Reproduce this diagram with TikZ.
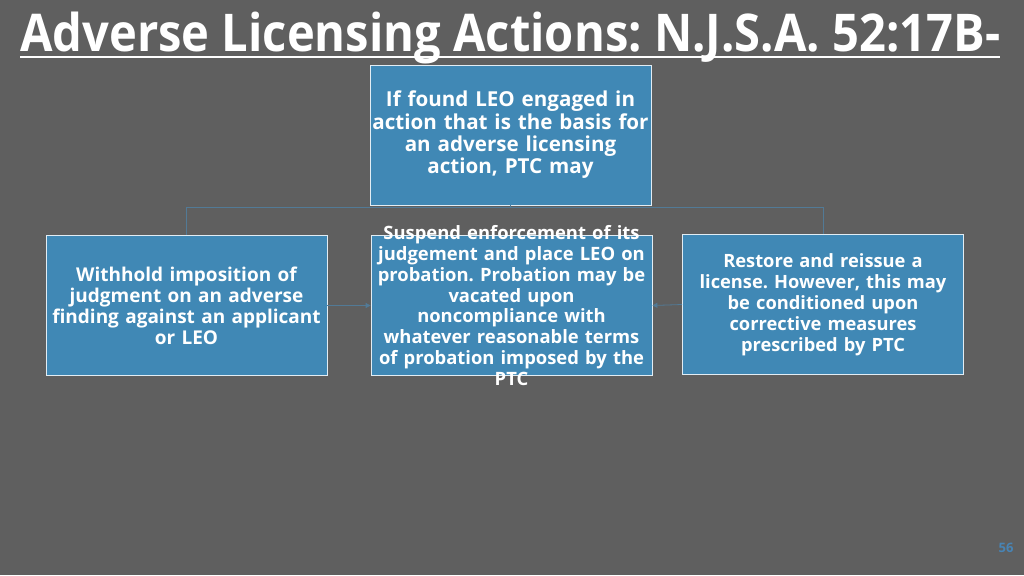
\documentclass[tikz,border=0pt]{standalone}
\usepackage{fontspec}
\setmainfont{Open Sans}
\usetikzlibrary{arrows.meta}
\definecolor{slidegrey}{RGB}{95,95,95}
\definecolor{boxblue}{RGB}{64,136,181}
\definecolor{linkblue}{RGB}{82,122,150}
\definecolor{numblue}{RGB}{72,132,180}
\begin{document}
\frenchspacing
\begin{tikzpicture}[x=1pt,y=-1pt,
    box/.style={shape=rectangle,draw=white!85!boxblue,line width=0.8pt,fill=boxblue,
      minimum width=281pt,minimum height=140pt,inner sep=0pt},
    boxtext/.style 2 args={inner sep=0pt,text width=290pt,align=center,text=white,
      font=\bfseries\fontsize{#1}{#2}\selectfont},
    link/.style={draw=linkblue,line width=0.8pt}]
    \useasboundingbox (0,0) rectangle (1024,575);
    \fill[slidegrey] (0,0) rectangle (1024,575);

    % title
    \node[anchor=base west,inner sep=0pt,text=white] (title) at (20,52)
        {\resizebox{980pt}{\height}{\bfseries\fontsize{52}{52}\selectfont Adverse Licensing Actions: N.J.S.A. 52:17B-}};
    \draw[white,line width=1.6pt] (title.base west) ++(0,5) -- ++(980,0);

    \node[box] (top) at (510.5,135) {};
    \node[box] (left) at (186.5,305.5) {};
    \node[box] (mid) at (511.5,305.5) {};
    \node[box] (right) at (823,304.5) {};

    \node[boxtext={20.6}{22.3}] (top-txt) at (top) {If found LEO engaged in\\action that is the basis for\\an adverse licensing\\action, PTC may};
    \node[boxtext={19}{21}] (left-txt) at (left) {Withhold imposition of\\judgment on an adverse\\finding against an applicant\\or LEO};
    \node[boxtext={18.4}{20.8}] (mid-txt) at (mid) {Suspend enforcement of its\\judgement and place LEO on\\probation. Probation may be\\vacated upon\\noncompliance with\\whatever reasonable terms\\of probation imposed by the\\PTC};
    \node[boxtext={18.3}{21}] (right-txt) at (right) {Restore and reissue a\\license. However, this may\\be conditioned upon\\corrective measures\\prescribed by PTC};

    \coordinate (split) at (510.5,207);
    \draw[link] (top.south) -- (split);
    \draw[link] (split) -| (left.north);
    \draw[link] (split) -| (right.north);

    \draw[link,-{Triangle[length=5pt,width=5pt]}] (left.east) -- (mid.west);
    \draw[link,-{Triangle[length=5pt,width=5pt]}] (right.west) -- (mid.east);

    \node[text=numblue,font=\bfseries\fontsize{13}{13}\selectfont] (page) at (1006,548) {56};
\end{tikzpicture}
\end{document}
